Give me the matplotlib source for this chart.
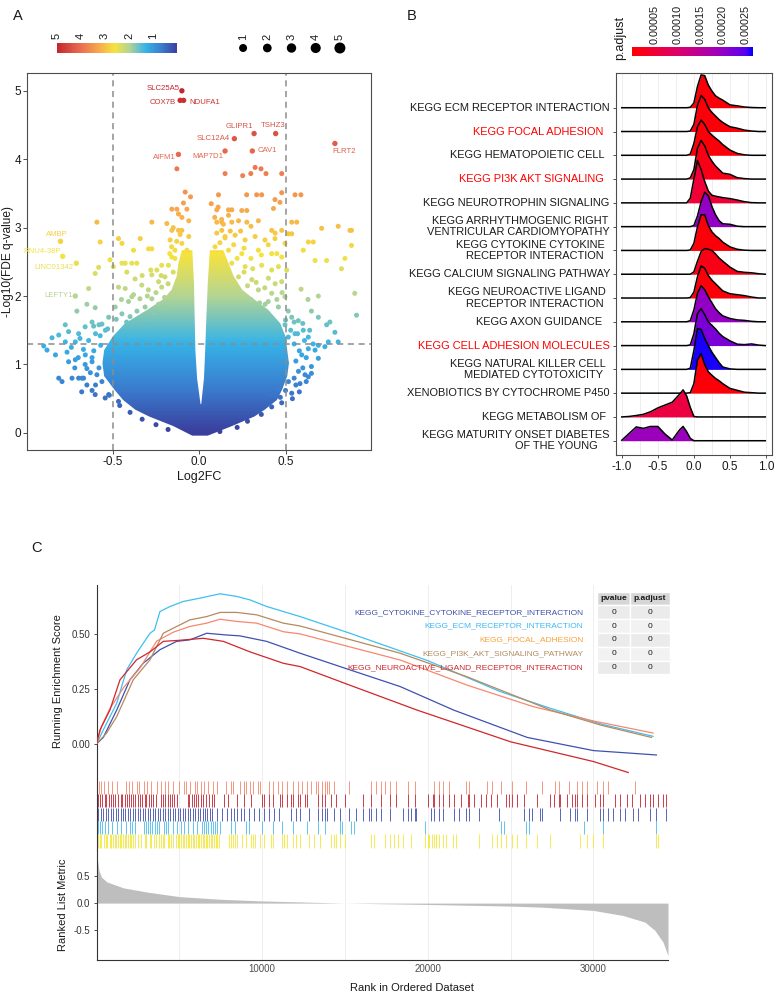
"""Three-panel figure: volcano plot (A), GSEA ridgeline plot (B), GSEA running score (C)."""

import matplotlib
matplotlib.use("Agg")
import matplotlib.pyplot as plt
import numpy as np
from matplotlib.cm import ScalarMappable
from matplotlib.colors import LinearSegmentedColormap, Normalize
from matplotlib.patches import Polygon, Rectangle

plt.rcParams["font.family"] = ["Liberation Sans", "DejaVu Sans"]

# ---------------------------------------------------------------- panel A data
lab_genes = ["SLC25A5", "COX7B", "NDUFA1", "GLIPR1", "TSHZ3", "SLC12A4", "CAV1",
             "MAP7D1", "AIFM1", "FLRT2", "AMBP", "RNU4-38P", "LINC01342", "LEFTY1"]
lab_fc = [-0.10, -0.11, -0.09, 0.318, 0.443, 0.204, 0.308,
          0.150, -0.12, 0.786, -0.803, -0.79, -0.711, -0.717]
lab_q = [5.0, 4.86, 4.86, 4.375, 4.375, 4.30, 4.12,
         4.12, 4.07, 4.23, 2.80, 2.58, 2.48, 2.0]

# scattered (non-overlapping) genes outside the dense core
sp_fc = [-0.129, 0.324, 0.358, 0.150, 0.252, 0.299, 0.387, 0.478,
         -0.081, -0.091, -0.158, -0.129, -0.071, 0.112, 0.275, 0.333, 0.362, 0.439, 0.478,
         0.589, 0.555, 0.102, 0.170, 0.189, 0.247, 0.276, 0.430, 0.468,
         -0.592, -0.274, -0.187, -0.158, -0.120, -0.100, 0.102, 0.131, 0.189, 0.228, 0.276,
         0.343, 0.420, 0.478, 0.536, 0.565, 0.709, 0.805, 0.873, 0.882, 0.882, 0.844,
         0.738, 0.671, 0.632, 0.661, 0.603, 0.516, 0.536, 0.901, 0.911, 0.824,
         -0.573, -0.467, -0.447, -0.380, -0.341, -0.293, -0.274, -0.516, -0.497,
         -0.447, -0.428, -0.390, -0.361, -0.245, -0.274, -0.235, -0.602, -0.582,
         -0.640, -0.708, -0.775, -0.813, -0.852, -0.900, -0.881, -0.813, -0.794,
         -0.736, -0.698, -0.669, -0.602, -0.544, -0.650, -0.602, -0.756, -0.698,
         -0.717, -0.765, -0.659, -0.620,
         0.650, 0.690, 0.757, 0.786, 0.805, 0.728, 0.671, 0.690, 0.650, 0.632,
         0.584, 0.650, 0.536, 0.478, 0.381, 0.343, 0.690, 0.738, 0.590, 0.630,
         -0.419, -0.371, -0.332, -0.428, -0.467, -0.390, -0.343, -0.294, -0.217,
         -0.198, -0.178, -0.159, -0.140, -0.168, -0.217, -0.486, -0.447, -0.524,
         -0.563, -0.611, -0.573, -0.543, -0.313, -0.274, -0.235, -0.409,
         0.150, 0.208, 0.266, 0.324, 0.381, 0.439, 0.497, 0.170, 0.247, 0.343,
         0.420, 0.478, 0.189, 0.266, 0.362, 0.459, 0.507, 0.228, 0.305, 0.401,
         0.478, 0.343, 0.420, 0.497, 0.382, 0.459, 0.516, 0.536, 0.574, 0.497,
         0.603, 0.555, 0.632, 0.516,
         -0.100, -0.071, -0.060, 0.102, 0.092, 0.131,
         -0.775, -0.832, -0.756, -0.717, -0.650, -0.679, -0.592, -0.563, -0.524,
         -0.467, 0.594, 0.632, 0.690, 0.748, 0.613, 0.575, 0.517, 0.459, 0.410,
         -0.40, -0.36, -0.31, -0.26, -0.22, -0.42, -0.38, -0.30, -0.25, -0.20,
         -0.45, -0.33, -0.28, -0.22, -0.18, -0.15, -0.14, -0.17,
         0.30, 0.35, 0.40, 0.45, 0.28, 0.33, 0.38, 0.44, 0.48, 0.26, 0.31, 0.42,
         0.22, 0.30, 0.36, 0.45, 0.20, 0.26, 0.40, 0.44, 0.24, 0.30,
         -0.60, -0.58, -0.62, -0.57, -0.53, -0.48, -0.52, -0.46, -0.40, -0.33, -0.25, -0.18,
         0.55, 0.56, 0.55, 0.53, 0.50, 0.50, 0.47, 0.42, 0.36, 0.28, 0.22, 0.12,
         -0.06, -0.10, 0.09, 0.13, 0.07, -0.05,
         -0.68, -0.65, -0.62, -0.66, -0.63, -0.61, -0.67, -0.70, -0.72, -0.74, -0.69, -0.64,
         -0.60, -0.58, -0.62, -0.66,
         0.58, 0.56, 0.60, 0.62, 0.58, 0.61, 0.57, 0.60, 0.55, 0.64, 0.66, 0.62, 0.54,
         -0.16, -0.13, -0.11, -0.15, -0.12, 0.12, 0.15, 0.18, 0.14, 0.17, 0.11]
sp_q = [3.86, 3.88, 3.86, 3.79, 3.76, 3.79, 3.79, 3.79,
        3.52, 3.36, 3.27, 3.27, 3.27, 3.48, 3.48, 3.48, 3.48, 3.41, 3.51,
        3.48, 3.48, 3.26, 3.26, 3.26, 3.25, 3.25, 3.28, 3.37,
        3.08, 3.08, 3.06, 2.96, 2.96, 2.96, 3.08, 3.08, 3.08, 3.10, 3.08,
        3.10, 2.96, 2.96, 3.08, 3.08, 2.99, 3.02, 2.96, 2.96, 2.74, 2.55,
        2.52, 2.52, 2.79, 2.79, 2.67, 2.91, 2.91, 2.04, 1.72, 2.40,
        2.79, 2.84, 2.77, 2.67, 2.84, 2.69, 2.69, 2.53, 2.43,
        2.48, 2.48, 2.48, 2.48, 2.38, 2.31, 2.21, 2.33, 2.42,
        2.11, 1.78, 1.58, 1.43, 1.39, 1.27, 1.21, 0.80, 0.75,
        0.80, 0.80, 0.80, 0.56, 0.51, 1.88, 1.83, 1.48, 1.45,
        1.33, 1.18, 1.14, 1.04,
        1.78, 1.69, 1.62, 1.47, 1.33, 1.26, 1.21, 1.09, 0.97, 0.82,
        0.72, 0.87, 0.58, 0.44, 0.41, 0.34, 2.00, 1.58, 2.10, 1.95,
        2.35, 2.25, 2.16, 2.11, 2.13, 1.99, 1.96, 2.09, 2.13,
        2.28, 2.45, 2.57, 2.67, 2.82, 2.45, 1.84, 1.74, 1.69,
        1.59, 1.56, 1.42, 1.50, 1.84, 1.96, 1.88, 1.92,
        2.87, 2.89, 2.82, 2.87, 2.82, 2.84, 2.77, 2.67, 2.62, 2.67,
        2.62, 2.57, 2.48, 2.43, 2.45, 2.43, 2.38, 2.28, 2.24, 2.26,
        2.21, 2.09, 2.04, 1.99, 1.88, 1.84, 1.78, 1.69, 1.64, 1.58,
        1.50, 1.45, 1.40, 1.40,
        2.77, 2.67, 2.87, 2.92, 2.72, 2.96,
        1.33, 1.14, 1.04, 1.07, 0.94, 0.80, 0.85, 0.75, 0.56,
        0.46, 1.14, 1.23, 1.28, 1.33, 0.85, 0.90, 0.75, 0.65, 0.56,
        1.70, 1.78, 1.66, 1.75, 1.82, 1.62, 2.02, 2.00, 2.05, 1.98,
        1.95, 2.30, 2.38, 2.30, 2.18, 2.35, 2.55, 2.62,
        1.95, 1.90, 1.92, 1.95, 2.15, 2.20, 2.12, 2.18, 2.05, 2.35, 2.40, 2.38,
        2.55, 2.55, 2.60, 2.62, 2.75, 2.70, 2.75, 2.92, 2.95, 3.02,
        0.70, 0.95, 1.10, 1.28, 1.52, 1.66, 0.55, 0.40, 0.30, 0.20, 0.12, 0.05,
        0.80, 1.05, 1.30, 1.50, 1.65, 0.62, 0.52, 0.38, 0.27, 0.17, 0.08, 0.02,
        3.10, 3.15, 3.15, 3.12, 3.35, 3.45,
        0.60, 0.70, 0.62, 1.00, 0.88, 1.20, 1.22, 1.10, 0.95, 1.25, 1.38, 1.35,
        1.45, 1.58, 1.62, 1.55,
        0.60, 0.70, 0.95, 1.10, 1.20, 1.35, 1.45, 1.60, 1.62, 1.50, 1.30, 0.75, 0.50,
        2.72, 2.80, 2.90, 3.00, 3.20, 2.78, 2.85, 2.95, 3.05, 3.18, 3.30]

# outline of the dense, fully overlapping part of the cloud
core_y = [-0.04, 0.10, 0.24, 0.34, 0.48, 0.63, 0.83, 1.02, 1.21, 1.41, 1.60, 1.80, 1.95, 2.09, 2.29, 2.48, 2.67]
core_left = [-0.04, -0.15, -0.29, -0.37, -0.44, -0.49, -0.55, -0.56, -0.55, -0.50, -0.43, -0.30,
             -0.21, -0.16, -0.13, -0.12, -0.10]
core_right = [0.05, 0.19, 0.32, 0.38, 0.45, 0.48, 0.51, 0.52, 0.51, 0.50, 0.47, 0.40,
              0.32, 0.25, 0.20, 0.17, 0.14]
# empty wedge around log2FC = 0
wedge_y = [0.42, 0.80, 1.21, 1.70, 2.19, 2.60, 3.00, 3.40]
wedge_left = [0.008, -0.012, -0.022, -0.026, -0.030, -0.038, -0.045, -0.060]
wedge_right = [0.012, 0.028, 0.035, 0.042, 0.050, 0.060, 0.075, 0.090]

size_levels = [1, 2, 3, 4, 5]
q_ticks = [5, 4, 3, 2, 1]

# ---------------------------------------------------------------- panel B data
ridge_labels = [
    ["KEGG ECM RECEPTOR INTERACTION"],
    ["KEGG FOCAL ADHESION"],
    ["KEGG HEMATOPOIETIC CELL"],
    ["KEGG PI3K AKT SIGNALING"],
    ["KEGG NEUROTROPHIN SIGNALING"],
    ["KEGG ARRHYTHMOGENIC RIGHT", "VENTRICULAR CARDIOMYOPATHY"],
    ["KEGG CYTOKINE CYTOKINE", "RECEPTOR INTERACTION"],
    ["KEGG CALCIUM SIGNALING PATHWAY"],
    ["KEGG NEUROACTIVE LIGAND", "RECEPTOR INTERACTION"],
    ["KEGG AXON GUIDANCE"],
    ["KEGG CELL ADHESION MOLECULES"],
    ["KEGG NATURAL KILLER CELL", "MEDIATED CYTOTOXICITY"],
    ["XENOBIOTICS BY CYTOCHROME P450"],
    ["KEGG METABOLISM OF"],
    ["KEGG MATURITY ONSET DIABETES", "OF THE YOUNG"],
]
ridge_highlight = [False, True, False, True, False, False, False, False,
                   False, False, True, False, False, False, False]
ridge_padj = [0.00001, 0.00001, 0.00001, 0.00002, 0.00005, 0.00020, 0.00001, 0.00002,
              0.00001, 0.00020, 0.00022, 0.00026, 0.00001, 0.00006, 0.00019]
ridge_x = [-1.0, -0.9, -0.8, -0.7, -0.6, -0.5, -0.4, -0.3, -0.2, -0.15, -0.1, -0.05,
           0.0, 0.05, 0.1, 0.15, 0.2, 0.25, 0.3, 0.35, 0.4, 0.5, 0.6, 0.7, 0.8, 0.9, 0.99]
z11 = [0] * 11
ridge_h = [
    z11 + [0.02, 0.2, 0.9, 1.38, 1.35, 0.95, 0.7, 0.5, 0.4, 0.32, 0.12, 0.08, 0.03, 0.01, 0, 0],
    z11 + [0.02, 0.3, 1.1, 1.52, 1.35, 1.0, 0.8, 0.65, 0.5, 0.38, 0.2, 0.14, 0.06, 0.02, 0, 0],
    z11 + [0.05, 0.5, 1.2, 1.48, 1.3, 1.0, 0.85, 0.72, 0.6, 0.45, 0.22, 0.08, 0.02, 0, 0, 0],
    z11 + [0.05, 0.4, 1.3, 1.62, 1.4, 1.0, 0.75, 0.55, 0.4, 0.25, 0.2, 0.06, 0.02, 0, 0, 0],
    z11 + [0.2, 1.0, 1.78, 1.4, 0.9, 0.5, 0.32, 0.28, 0.25, 0.22, 0.18, 0.12, 0.05, 0.01, 0, 0],
    z11 + [0, 0.05, 0.45, 1.05, 1.45, 1.3, 0.85, 0.5, 0.25, 0.12, 0.1, 0.02, 0, 0, 0, 0],
    z11 + [0.02, 0.3, 1.0, 1.5, 1.5, 1.05, 0.78, 0.62, 0.5, 0.35, 0.15, 0.05, 0.01, 0, 0, 0],
    z11 + [0, 0.1, 0.55, 0.95, 1.08, 1.05, 1.0, 0.85, 0.68, 0.55, 0.3, 0.12, 0.08, 0.06, 0.02, 0],
    z11 + [0.02, 0.25, 0.9, 1.35, 1.25, 0.95, 0.75, 0.6, 0.45, 0.3, 0.18, 0.14, 0.1, 0.04, 0, 0],
    z11 + [0.05, 0.5, 1.2, 1.52, 1.35, 1.05, 0.8, 0.55, 0.38, 0.25, 0.14, 0.08, 0.06, 0.02, 0, 0],
    z11 + [0.03, 0.5, 1.35, 1.55, 1.3, 1.0, 0.85, 0.7, 0.52, 0.38, 0.2, 0.06, 0.04, 0.07, 0.02, 0],
    z11 + [0.05, 0.8, 1.72, 1.68, 1.3, 1.0, 0.72, 0.5, 0.28, 0.1, 0.02, 0, 0, 0, 0, 0],
    z11 + [0.02, 0.4, 1.4, 1.66, 1.2, 0.9, 0.75, 0.62, 0.52, 0.4, 0.2, 0.12, 0.04, 0.02, 0, 0],
    [0, 0.02, 0.06, 0.11, 0.22, 0.38, 0.5, 0.62, 0.95, 1.14, 0.88, 0.4, 0.02] + [0] * 14,
    [0.02, 0.3, 0.58, 0.52, 0.6, 0.6, 0.28, 0.03, 0.45, 0.6, 0.38, 0.1, 0] + [0] * 14,
]
padj_ticks = [0.00005, 0.00010, 0.00015, 0.00020, 0.00025]

# ---------------------------------------------------------------- panel C data
gs_names = ["KEGG_CYTOKINE_CYTOKINE_RECEPTOR_INTERACTION", "KEGG_ECM_RECEPTOR_INTERACTION",
            "KEGG_FOCAL_ADHESION", "KEGG_PI3K_AKT_SIGNALING_PATHWAY",
            "KEGG_NEUROACTIVE_LIGAND_RECEPTOR_INTERACTION"]
gs_pvalue = [0, 0, 0, 0, 0]
gs_padjust = [0, 0, 0, 0, 0]

# running enrichment score, rank in thousands
es_cyto_x = [0, 0.41, 1.22, 2.02, 2.83, 3.83, 4.84, 5.64, 6.65, 7.86, 8.66, 10.27, 12.29, 15.3, 18.33, 21.55, 26.0, 30.0, 33.8]
es_cyto_y = [0, 0.03, 0.155, 0.293, 0.369, 0.43, 0.468, 0.475, 0.505, 0.497, 0.493, 0.468, 0.414, 0.338, 0.262, 0.155, 0.03, -0.03, -0.05]
es_ecm_x = [0, 0.41, 1.22, 1.82, 2.42, 3.23, 3.5, 3.83, 4.44, 5.24, 6.25, 7.46, 8.46, 9.27, 10.27, 12.29, 15.3, 20.0, 24.37, 27.39, 30.5, 33.6]
es_ecm_y = [0, 0.064, 0.186, 0.338, 0.414, 0.505, 0.52, 0.604, 0.627, 0.65, 0.665, 0.685, 0.673, 0.657, 0.627, 0.581, 0.505, 0.38, 0.239, 0.163, 0.09, 0.035]
es_focal_x = [0, 0.3, 0.8, 1.62, 2.63, 3.63, 4.64, 5.64, 6.65, 7.46, 8.46, 9.67, 11.28, 12.29, 18.33, 22.35, 26.38, 30.0, 33.6]
es_focal_y = [0, 0.08, 0.16, 0.256, 0.347, 0.469, 0.51, 0.536, 0.551, 0.569, 0.559, 0.551, 0.512, 0.502, 0.383, 0.269, 0.17, 0.105, 0.05]
es_pi3k_x = [0, 0.6, 1.22, 2.22, 3.23, 4.03, 4.84, 5.64, 6.65, 7.46, 8.46, 9.67, 11.28, 12.29, 18.33, 22.35, 26.38, 27.39, 30.5, 33.5]
es_pi3k_y = [0, 0.049, 0.125, 0.293, 0.384, 0.505, 0.536, 0.566, 0.581, 0.6, 0.6, 0.589, 0.551, 0.538, 0.414, 0.307, 0.186, 0.155, 0.085, 0.03]
es_neuro_x = [0, 0.21, 0.81, 1.42, 2.42, 3.23, 4.03, 5.04, 6.45, 7.66, 9.27, 11.28, 12.29, 15.3, 19.34, 25.0, 30.0, 32.1]
es_neuro_y = [0, 0.064, 0.155, 0.293, 0.384, 0.42, 0.468, 0.473, 0.482, 0.468, 0.42, 0.368, 0.353, 0.268, 0.155, 0.01, -0.08, -0.13]

# hit positions (rank in thousands), rug rows top to bottom
hits_row1 = [0.14, 0.27, 0.46, 0.68, 0.95, 1.22, 1.76, 1.97, 2.16, 2.43, 2.57, 2.84, 3.05, 3.32, 3.65, 3.92,
             4.13, 4.32, 4.59, 5.0, 5.27, 5.4, 5.67, 5.94, 6.08, 6.29, 6.48, 6.75, 7.02, 7.29, 7.83, 8.1,
             8.24, 8.64, 8.91, 9.05, 9.26, 9.45, 9.72, 9.86, 10.4, 10.67, 10.94, 11.2, 11.48, 11.88, 12.15,
             12.42, 12.69, 12.96, 13.23, 13.37, 13.64, 13.77, 13.9, 14.04, 14.31, 15.26, 16.6, 16.88, 17.15,
             17.4, 17.7, 18.1, 18.8, 19.2, 20.4, 20.7, 20.9, 21.3, 22.3, 22.5, 23.6, 23.9, 24.4, 25.1, 25.9,
             26.9, 27.7, 27.9, 28.5, 29.0, 29.3, 29.6, 30.2, 30.6, 30.9, 32.5]
hits_row2 = [0.08, 0.2, 0.35, 0.5, 0.6, 0.75, 0.9, 1.0, 1.1, 1.3, 1.45, 1.55, 1.7, 1.85, 1.95, 2.1, 2.2,
             2.35, 2.5, 2.6, 2.75, 2.9, 3.0, 3.15, 3.3, 3.4, 3.6, 3.9, 4.0, 4.15, 4.3, 4.45, 4.55, 4.7, 4.85,
             5.5, 5.6, 5.75, 5.9, 6.0, 6.15, 6.3, 6.45, 6.6, 6.8, 6.95, 7.1, 7.67, 7.94, 8.48, 8.91, 9.32,
             9.99, 10.1, 10.4, 10.67, 11.07, 11.2, 11.48, 11.75, 11.88, 12.15, 12.29, 12.56, 12.69, 13.37,
             13.64, 13.77, 14.18, 14.45, 14.99, 16.1, 16.6, 17.15, 17.7, 18.1, 18.8, 19.2, 20.0, 20.3, 20.4,
             20.7, 20.9, 21.3, 21.6, 22.0, 22.4, 22.5, 22.8, 23.2, 23.5, 23.8, 24.2, 24.7, 24.9, 25.1, 25.4,
             25.8, 26.6, 27.4, 27.6, 27.9, 28.0, 28.4, 28.7, 28.9, 29.0, 29.3, 29.6, 30.1, 30.4, 30.6, 31.3,
             31.6, 32.0, 32.3, 32.8, 33.1, 33.4, 33.6, 33.9, 34.2, 34.4]
hits_row3 = [0.1, 0.25, 0.4, 0.55, 0.7, 0.85, 1.0, 1.15, 1.3, 1.45, 1.6, 1.75, 1.9, 2.05, 2.2, 2.35, 2.5,
             2.65, 2.8, 2.95, 3.1, 3.25, 3.4, 3.55, 3.7, 3.85, 4.0, 4.15, 4.3, 4.45, 4.6, 4.75, 4.9, 5.05,
             5.2, 5.35, 5.5, 5.65, 5.8, 5.95, 6.1, 6.25, 6.4, 6.55, 6.7, 6.85, 7.0, 7.3, 7.6, 7.9, 8.1, 8.3,
             8.5, 8.7, 8.9, 9.2, 9.5, 9.8, 10.1, 10.4, 10.7, 11.0, 11.75, 12.02, 12.29, 12.83, 13.37, 13.64,
             13.77, 13.9, 14.31, 14.72, 15.26, 15.66, 16.07, 16.47, 16.6, 16.88, 17.15, 17.7, 18.5, 18.8,
             19.0, 19.2, 19.3, 20.2, 20.4, 20.7, 20.9, 21.6, 21.9, 22.3, 22.5, 23.1, 24.3, 25.8, 26.1, 26.3,
             26.8, 26.9, 28.0, 28.6, 28.9, 29.0, 29.6, 30.4, 30.6, 30.9, 31.2, 31.6, 31.9, 32.4, 32.7, 33.4,
             33.8, 34.4]
hits_row4 = [0.08, 0.19, 0.35, 0.54, 0.68, 0.95, 1.22, 1.49, 1.76, 2.03, 2.16, 2.3, 2.84, 2.97, 3.11, 3.24,
             3.38, 3.51, 3.65, 3.78, 4.05, 4.19, 4.32, 4.59, 4.86, 5.13, 5.27, 5.54, 5.81, 6.08, 6.35, 6.48,
             6.62, 6.75, 6.89, 7.02, 7.16, 7.29, 7.43, 8.1, 8.37, 9.05, 9.18, 9.99, 10.67, 11.2, 11.88, 12.69,
             13.37, 13.77, 14.72, 14.85, 15.39, 15.53, 19.85, 24.4, 24.6, 25.9, 26.1, 29.4, 30.6, 33.75]
hits_row5 = [0.08, 0.2, 0.3, 0.45, 0.55, 0.65, 0.8, 0.9, 1.0, 1.1, 1.2, 1.3, 1.4, 1.5, 1.6, 1.7, 1.8, 1.9,
             2.0, 2.1, 2.2, 2.3, 2.5, 2.7, 2.9, 3.0, 3.2, 3.3, 3.5, 3.6, 3.8, 3.9, 4.0, 4.1, 4.3, 4.4, 4.5,
             4.6, 4.8, 4.9, 5.0, 5.1, 5.2, 5.3, 5.4, 5.5, 5.6, 5.7, 5.8, 5.9, 6.0, 6.1, 6.2, 6.3, 6.4, 6.5,
             6.6, 6.7, 6.8, 6.9, 7.0, 7.1, 7.2, 7.3, 7.4, 7.97, 8.1, 8.24, 8.37, 8.51, 8.78, 9.05, 9.32,
             9.45, 9.59, 9.86, 10.13, 10.53, 10.67, 11.2, 11.34, 11.48, 11.88, 12.02, 12.29, 12.83, 13.1,
             13.5, 14.18, 14.31, 14.45, 14.72, 14.99, 16.6, 16.74, 17.42, 17.7, 17.96, 18.2, 18.5, 19.0,
             19.85, 19.99, 20.1, 20.25, 20.4, 20.5, 20.66, 20.9, 21.1, 21.5, 21.7, 23.1, 23.9, 24.2, 24.4,
             24.7, 25.1, 25.4, 25.9, 26.6, 27.4, 29.2, 29.6, 30.0, 30.6, 33.75, 33.9]

# ranked list metric (rank in thousands)
metric_x = [0, 0.05, 0.15, 0.3, 0.63, 1.64, 3.13, 5.0, 7.5, 10.0, 15.0, 20.0, 25.0, 26.9, 30.0, 31.8, 33.1, 33.7, 34.2, 34.5]
metric_y = [0.95, 0.82, 0.6, 0.48, 0.39, 0.28, 0.2, 0.12, 0.07, 0.04, 0.0, -0.025, -0.055, -0.075, -0.135, -0.23, -0.35, -0.5, -0.72, -0.97]
n_genes = 34500
rank_ticks = [10000, 20000, 30000]

# ---------------------------------------------------------------- layout helpers
W, H = 775, 997
fig = plt.figure(figsize=(W / 100, H / 100), dpi=100)


def px_box(x0, y0, x1, y1):
    return [x0 / W, 1 - y1 / H, (x1 - x0) / W, (y1 - y0) / H]


def fx(x):
    return x / W


def fy(y):
    return 1 - y / H


TXT = "#1a1a1a"

# ================================================================= panel A
cmapA = LinearSegmentedColormap.from_list(
    "volc", [(0.0, "#3A3F9E"), (0.12, "#3B79CC"), (0.26, "#36B3E8"), (0.40, "#B5D592"),
             (0.52, "#F5E33F"), (0.64, "#F8AE4A"), (0.80, "#EA6E53"), (1.0, "#C4262C")])
normA = Normalize(0, 5)

axA = fig.add_axes(px_box(27.3, 73, 371, 450))
xa0, xa1, ya0, ya1 = -0.995, 0.995, -0.25, 5.26
core = Polygon(list(zip(core_left, core_y)) + list(zip(core_right[::-1], core_y[::-1])),
               closed=True, facecolor="none", edgecolor="none")
axA.add_patch(core)
img = axA.imshow(np.linspace(ya0, ya1, 400)[:, None], cmap=cmapA, norm=normA, origin="lower",
                 extent=(xa0, xa1, ya0, ya1), aspect="auto", zorder=1)
img.set_clip_path(core)
axA.add_patch(Polygon(list(zip(wedge_left, wedge_y)) + list(zip(wedge_right[::-1], wedge_y[::-1])),
                      closed=True, facecolor="white", edgecolor="none", zorder=1.5))
axA.scatter(sp_fc, sp_q, c=sp_q, cmap=cmapA, norm=normA, s=13, linewidths=0, zorder=2)
axA.scatter(lab_fc, lab_q, c=lab_q, cmap=cmapA, norm=normA, s=15, linewidths=0, zorder=2)

dash = dict(color="#8C8C8C", lw=1.1, ls=(0, (4, 3)), zorder=2.5)
axA.axvline(-0.5, **dash)
axA.axvline(0.5, **dash)
axA.axhline(1.3, **dash)

# label offsets in pixels (dx right, dy down) and alignment
lab_off = [(-2, -2, "right"), (-4, 2, "right"), (6, 2, "left"), (-1, -7, "right"),
           (-3, -8, "center"), (-5, 0, "right"), (5, 0, "left"), (-2, 6, "right"),
           (-3, 3, "right"), (-3, 8.5, "left"), (-4, -7, "center"), (-1.5, -5, "right"),
           (-2.5, 4, "right"), (-2.5, -1, "right")]
for g, x, y, (dx, dy, ha) in zip(lab_genes, lab_fc, lab_q, lab_off):
    axA.annotate(g, (x, y), xytext=(dx * 0.72, -dy * 0.72), textcoords="offset points",
                 ha=ha, va="center", fontsize=5.6, color=cmapA(normA(y)), zorder=4)

axA.set_xlim(xa0, xa1)
axA.set_ylim(ya0, ya1)
axA.set_xticks([-0.5, 0, 0.5])
axA.set_xticklabels(["-0.5", "0.0", "0.5"])
axA.set_yticks([0, 1, 2, 3, 4, 5])
axA.tick_params(labelsize=8.5, colors="#333333", labelcolor=TXT, length=3, width=0.6, pad=1.5)
for s in axA.spines.values():
    s.set_color("#4D4D4D")
    s.set_linewidth(0.8)
axA.set_xlabel("Log2FC", fontsize=9, color=TXT, labelpad=2)
axA.set_ylabel("-Log10(FDE q-value)", fontsize=8.6, color=TXT, labelpad=0.5)

# colour legend
cbA = fig.add_axes(px_box(57, 43, 177, 53))
cb = fig.colorbar(ScalarMappable(normA, cmapA), cax=cbA, orientation="horizontal")
cb.outline.set_visible(False)
cbA.invert_xaxis()
cbA.xaxis.set_ticks_position("top")
cbA.set_xticks(q_ticks)
cbA.set_xticklabels([str(t) for t in q_ticks], rotation=90)
cbA.tick_params(length=0, labelsize=8, labelcolor=TXT, pad=3)

# size legend
szA = fig.add_axes(px_box(231, 25, 352, 58))
szA.set_axis_off()
szA.set_xlim(0.5, 5.5)
szA.set_ylim(0, 33)
sz_d = [8, 8.7, 9.4, 10.1, 11]
szA.scatter(size_levels, [10] * 5, s=[(d * 0.72) ** 2 for d in sz_d], color="black", linewidths=0)
for v in size_levels:
    szA.text(v, 21, str(v), rotation=90, ha="center", va="center", fontsize=8, color=TXT)

fig.text(fx(18), fy(16), "A", fontsize=10.5, ha="center", va="center", color=TXT)

# ================================================================= panel B
cmapB = LinearSegmentedColormap.from_list(
    "padj", [(0.0, "#FF0000"), (0.19, "#F00038"), (0.38, "#DC006A"), (0.57, "#BA0098"),
             (0.75, "#9400C4"), (0.94, "#5A00EC"), (1.0, "#0000FF")])
normB = Normalize(0, 0.000265)

axB = fig.add_axes(px_box(616, 73, 772, 455))
n_r = len(ridge_labels)
base = [n_r - i for i in range(n_r)]
for gx in [-1.0, -0.75, -0.5, -0.25, 0, 0.25, 0.5, 0.75, 1.0]:
    axB.axvline(gx, color="#EBEBEB", lw=0.6, zorder=0)
for i, (b, h, p) in enumerate(zip(base, ridge_h, ridge_padj)):
    yy = [b + v for v in h]
    axB.fill_between(ridge_x, b, yy, color=cmapB(normB(p)), lw=0, zorder=2 + i)
    axB.plot(ridge_x, yy, color="black", lw=1.1, zorder=2 + i, solid_joinstyle="round")
axB.set_xlim(-1.08, 1.083)
axB.set_ylim(0.4, 16.46)
axB.set_yticks(base)
axB.set_yticklabels([])
axB.set_xticks([-1.0, -0.5, 0, 0.5, 1.0])
axB.set_xticklabels(["-1.0", "-0.5", "0.0", "0.5", "1.0"])
axB.tick_params(labelsize=8.5, colors="#333333", labelcolor=TXT, length=2.5, width=0.6, pad=2)
for s in axB.spines.values():
    s.set_color("#4D4D4D")
    s.set_linewidth(0.8)

# label insets (px left of the axis) per line
lab_inset = [[6], [12.7], [11], [11.7], [7], [7.7, 6], [11, 12.7], [6], [10, 12.7],
             [13.7], [6], [10, 12.7], [6], [10], [6, 18.7]]
tr = axB.get_yaxis_transform()
px_unit = (455 - 73) / (16.46 - 0.4)
for b, lines, insets, hl in zip(base, ridge_labels, lab_inset, ridge_highlight):
    offs = [0] if len(lines) == 1 else [-5.6, 5.6]
    for line, ins, off in zip(lines, insets, offs):
        axB.text(-ins / 156, b - off / px_unit, line, transform=tr, ha="right", va="center",
                 fontsize=7.9, color="#FF0000" if hl else TXT, clip_on=False)

cbB = fig.add_axes(px_box(631.7, 46.7, 752.7, 56))
cb2 = fig.colorbar(ScalarMappable(normB, cmapB), cax=cbB, orientation="horizontal")
cb2.outline.set_visible(False)
cbB.xaxis.set_ticks_position("top")
cbB.set_xticks(padj_ticks)
cbB.set_xticklabels([f"{t:.5f}" for t in padj_ticks], rotation=90)
cbB.tick_params(length=0, labelsize=7.8, labelcolor=TXT, pad=2)
fig.text(fx(620), fy(38), "p.adjust", rotation=90, ha="center", va="center", fontsize=9, color=TXT)
fig.text(fx(411.7), fy(16), "B", fontsize=10.5, ha="center", va="center", color=TXT)

# ================================================================= panel C
x_left, x_right = 96.5, 668
axC1 = fig.add_axes(px_box(x_left, 585, x_right, 778))
axC2 = fig.add_axes(px_box(x_left, 778, x_right, 850))
axC3 = fig.add_axes(px_box(x_left, 850, x_right, 960))
for ax in (axC1, axC2, axC3):
    ax.set_xlim(0, n_genes)
    for gx in range(5000, n_genes, 5000):
        ax.axvline(gx, color="#EBEBEB", lw=0.6, zorder=0)
    for k in ("top", "right", "bottom"):
        ax.spines[k].set_visible(False)
    ax.spines["left"].set_color("#333333")
    ax.spines["left"].set_linewidth(0.8)
    ax.tick_params(axis="x", length=0)
    ax.set_xticks([])

curves = [(es_cyto_x, es_cyto_y, "#4050B0"), (es_ecm_x, es_ecm_y, "#3FBFF2"),
          (es_focal_x, es_focal_y, "#F7886F"), (es_pi3k_x, es_pi3k_y, "#B38B5F"),
          (es_neuro_x, es_neuro_y, "#D0262C")]
for cx, cy, col in curves:
    axC1.plot(np.array(cx) * 1000, cy, color=col, lw=0.9, zorder=3)
axC1.set_ylim(-0.155, 0.725)
axC1.set_yticks([0, 0.25, 0.5])
axC1.set_yticklabels(["0.00", "0.25", "0.50"])
axC1.tick_params(axis="y", labelsize=7, labelcolor="#333333", color="#333333", length=2.5, width=0.6, pad=2)
axC1.set_ylabel("Running Enrichment Score", fontsize=8, color=TXT, labelpad=6)

# legend text and p-value table
leg_cols = ["#4151A8", "#3DB9F0", "#F9A23A", "#B08B62", "#D0262C"]
tb = fig.add_axes(px_box(596.7, 591.7, 670, 674.3))
tb.set_axis_off()
tb.set_xlim(0, 73.3)
tb.set_ylim(6, 0)
col_edges = [(0, 33.6), (33.6, 73.3)]
rows = [["pvalue", "p.adjust"]] + [[str(a), str(b)] for a, b in zip(gs_pvalue, gs_padjust)]
for r, row in enumerate(rows):
    face = "#D6D6D6" if r == 0 else ("#EBEBEB" if r % 2 == 1 else "#F2F2F2")
    for (c0, c1), val in zip(col_edges, row):
        tb.add_patch(Rectangle((c0, r), c1 - c0, 1, facecolor=face, edgecolor="white", lw=1.0))
        tb.text((c0 + c1) / 2, r + 0.5, val, ha="center", va="center", fontsize=6,
                fontweight="bold" if r == 0 else "normal", color=TXT)
for r, (name, col) in enumerate(zip(gs_names, leg_cols)):
    fig.text(fx(583.3), fy(591.7 + 13.77 * (r + 1.5)), name, ha="right", va="center",
             fontsize=6, color=col)

# rug of gene-set members
rug_rows = [(hits_row1, "#F58468", 56, 69.3), (hits_row2, "#BE1E2D", 42.7, 56),
            (hits_row3, "#3C4BA6", 29, 41.7), (hits_row4, "#45BCEF", 16, 29),
            (hits_row5, "#F3E733", 2.3, 16)]
for hx, col, y0, y1 in rug_rows:
    axC2.vlines(np.array(hx) * 1000, y0, y1, color=col, lw=0.7, alpha=0.85)
axC2.set_ylim(0, 72)
axC2.set_yticks([])

# ranked list metric
mx = np.array(metric_x) * 1000
axC3.fill_between(mx, 0, metric_y, color="#BEBEBE", lw=0, zorder=2)
axC3.set_ylim(-1.05, 0.98)
axC3.spines["bottom"].set_visible(True)
axC3.spines["bottom"].set_color("#333333")
axC3.spines["bottom"].set_linewidth(0.8)
axC3.set_xticks(rank_ticks)
axC3.set_xticklabels([str(t) for t in rank_ticks])
axC3.tick_params(axis="x", labelsize=7, labelcolor="#4D4D4D", length=0, pad=3)
axC3.set_yticks([-0.5, 0, 0.5])
axC3.set_yticklabels(["-0.5", "0.0", "0.5"])
axC3.tick_params(axis="y", labelsize=7, labelcolor="#333333", color="#333333", length=2.5, width=0.6, pad=2)
axC3.set_ylabel("Ranked List Metric", fontsize=8, color=TXT, labelpad=4)
fig.text(fx(412), fy(988), "Rank in Ordered Dataset", ha="center", va="center", fontsize=8, color=TXT)
fig.text(fx(37), fy(548), "C", fontsize=10.5, ha="center", va="center", color=TXT)

fig.savefig("out.png", dpi=100)
